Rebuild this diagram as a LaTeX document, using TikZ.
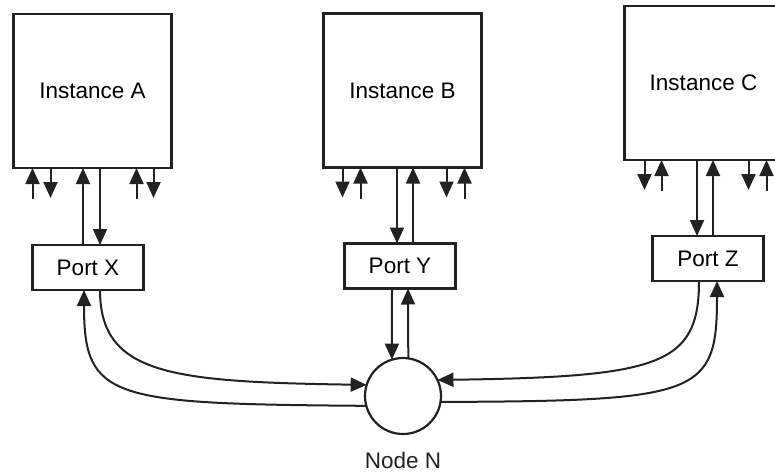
\documentclass[tikz,border=0pt]{standalone}
\usepackage{fontspec}
\setmainfont{Liberation Sans}
\usetikzlibrary{arrows.meta,positioning}
\definecolor{cInk}{HTML}{222222}
\tikzset{
  box/.style ={draw=cInk,line width=2.2pt,fill=white,align=center,inner sep=0pt},
  inst/.style={box,minimum width=158pt,minimum height=154pt},
  port/.style={box,minimum width=111pt,minimum height=45pt},
  hub/.style ={draw=cInk,line width=2.2pt,circle,minimum size=76pt,inner sep=0pt},
  lbl/.style ={inner sep=0pt,text=cInk},
  sig/.style ={-{Triangle[length=16pt,width=14pt]},draw=cInk,line width=2pt},
}

\begin{document}
\begin{tikzpicture}[x=1pt,y=-1pt,font=\fontsize{22.5}{26}\selectfont,every node/.style={outer sep=0pt}]
\clip (0,0) rectangle (775,473);
% instances
\node[inst] (instA) at (92.5,91)   {Instance A};
\node[inst] (instB) at (402.5,90.5) {Instance B};
\node[inst] (instC) at (703.5,83)  {Instance C};
% ports
\node[port] (portX) at (88,267.5)  {Port X};
\node[port] (portY) at (400,266)   {Port Y};
\node[port] (portZ) at (708,258.5) {Port Z};
% node N
\node[hub] (nodeN) at (403,396) {};
\node[lbl,below=18pt of nodeN] (lblN) {Node N};

% short stubs under the instances
\foreach \a/\dx in {instA.south west/19, instA.south east/-35,
                    instB.south west/37, instB.south east/-17,
                    instC.south west/37, instC.south east/-16}
  {\draw[sig] ([xshift=\dx pt,yshift=-31pt]\a) -- ([xshift=\dx pt]\a);}
\foreach \a/\dx in {instA.south west/37, instA.south east/-18,
                    instB.south west/19, instB.south east/-35,
                    instC.south west/20, instC.south east/-34}
  {\draw[sig] ([xshift=\dx pt]\a) -- ([xshift=\dx pt,yshift=-30pt]\a);}

% instance <-> port
\draw[sig] ([xshift=-5pt]portX.north) -- ([xshift=-5pt]portX.north |- instA.south);
\draw[sig] ([xshift=12pt]portX.north |- instA.south) -- ([xshift=12pt]portX.north);
\draw[sig] ([xshift=-3pt]portY.north |- instB.south) -- ([xshift=-3pt]portY.north);
\draw[sig] ([xshift=13pt]portY.north) -- ([xshift=13pt]portY.north |- instB.south);
\draw[sig] ([xshift=-11pt]portZ.north |- instC.south) -- ([xshift=-11pt]portZ.north);
\draw[sig] ([xshift=5pt]portZ.north) -- ([xshift=5pt]portZ.north |- instC.south);

% port <-> node N
\draw[sig] ([xshift=-8pt]portY.south) -- (nodeN.107);
\draw[sig] (nodeN.82) -- ([xshift=8pt]portY.south);
\draw[sig] ([xshift=12pt]portX.south) .. controls +(0,85) and +(-195,-3) .. (nodeN.163);
\draw[sig] (nodeN.195) .. controls +(-256,-2) and +(0,110) .. ([xshift=-4pt]portX.south);
\draw[sig] ([xshift=-9pt]portZ.south) .. controls +(0,84) and +(223,-3) .. (nodeN.25);
\draw[sig] (nodeN.-9) .. controls +(260,-1) and +(0,114) .. ([xshift=9pt]portZ.south);
\end{tikzpicture}
\end{document}
